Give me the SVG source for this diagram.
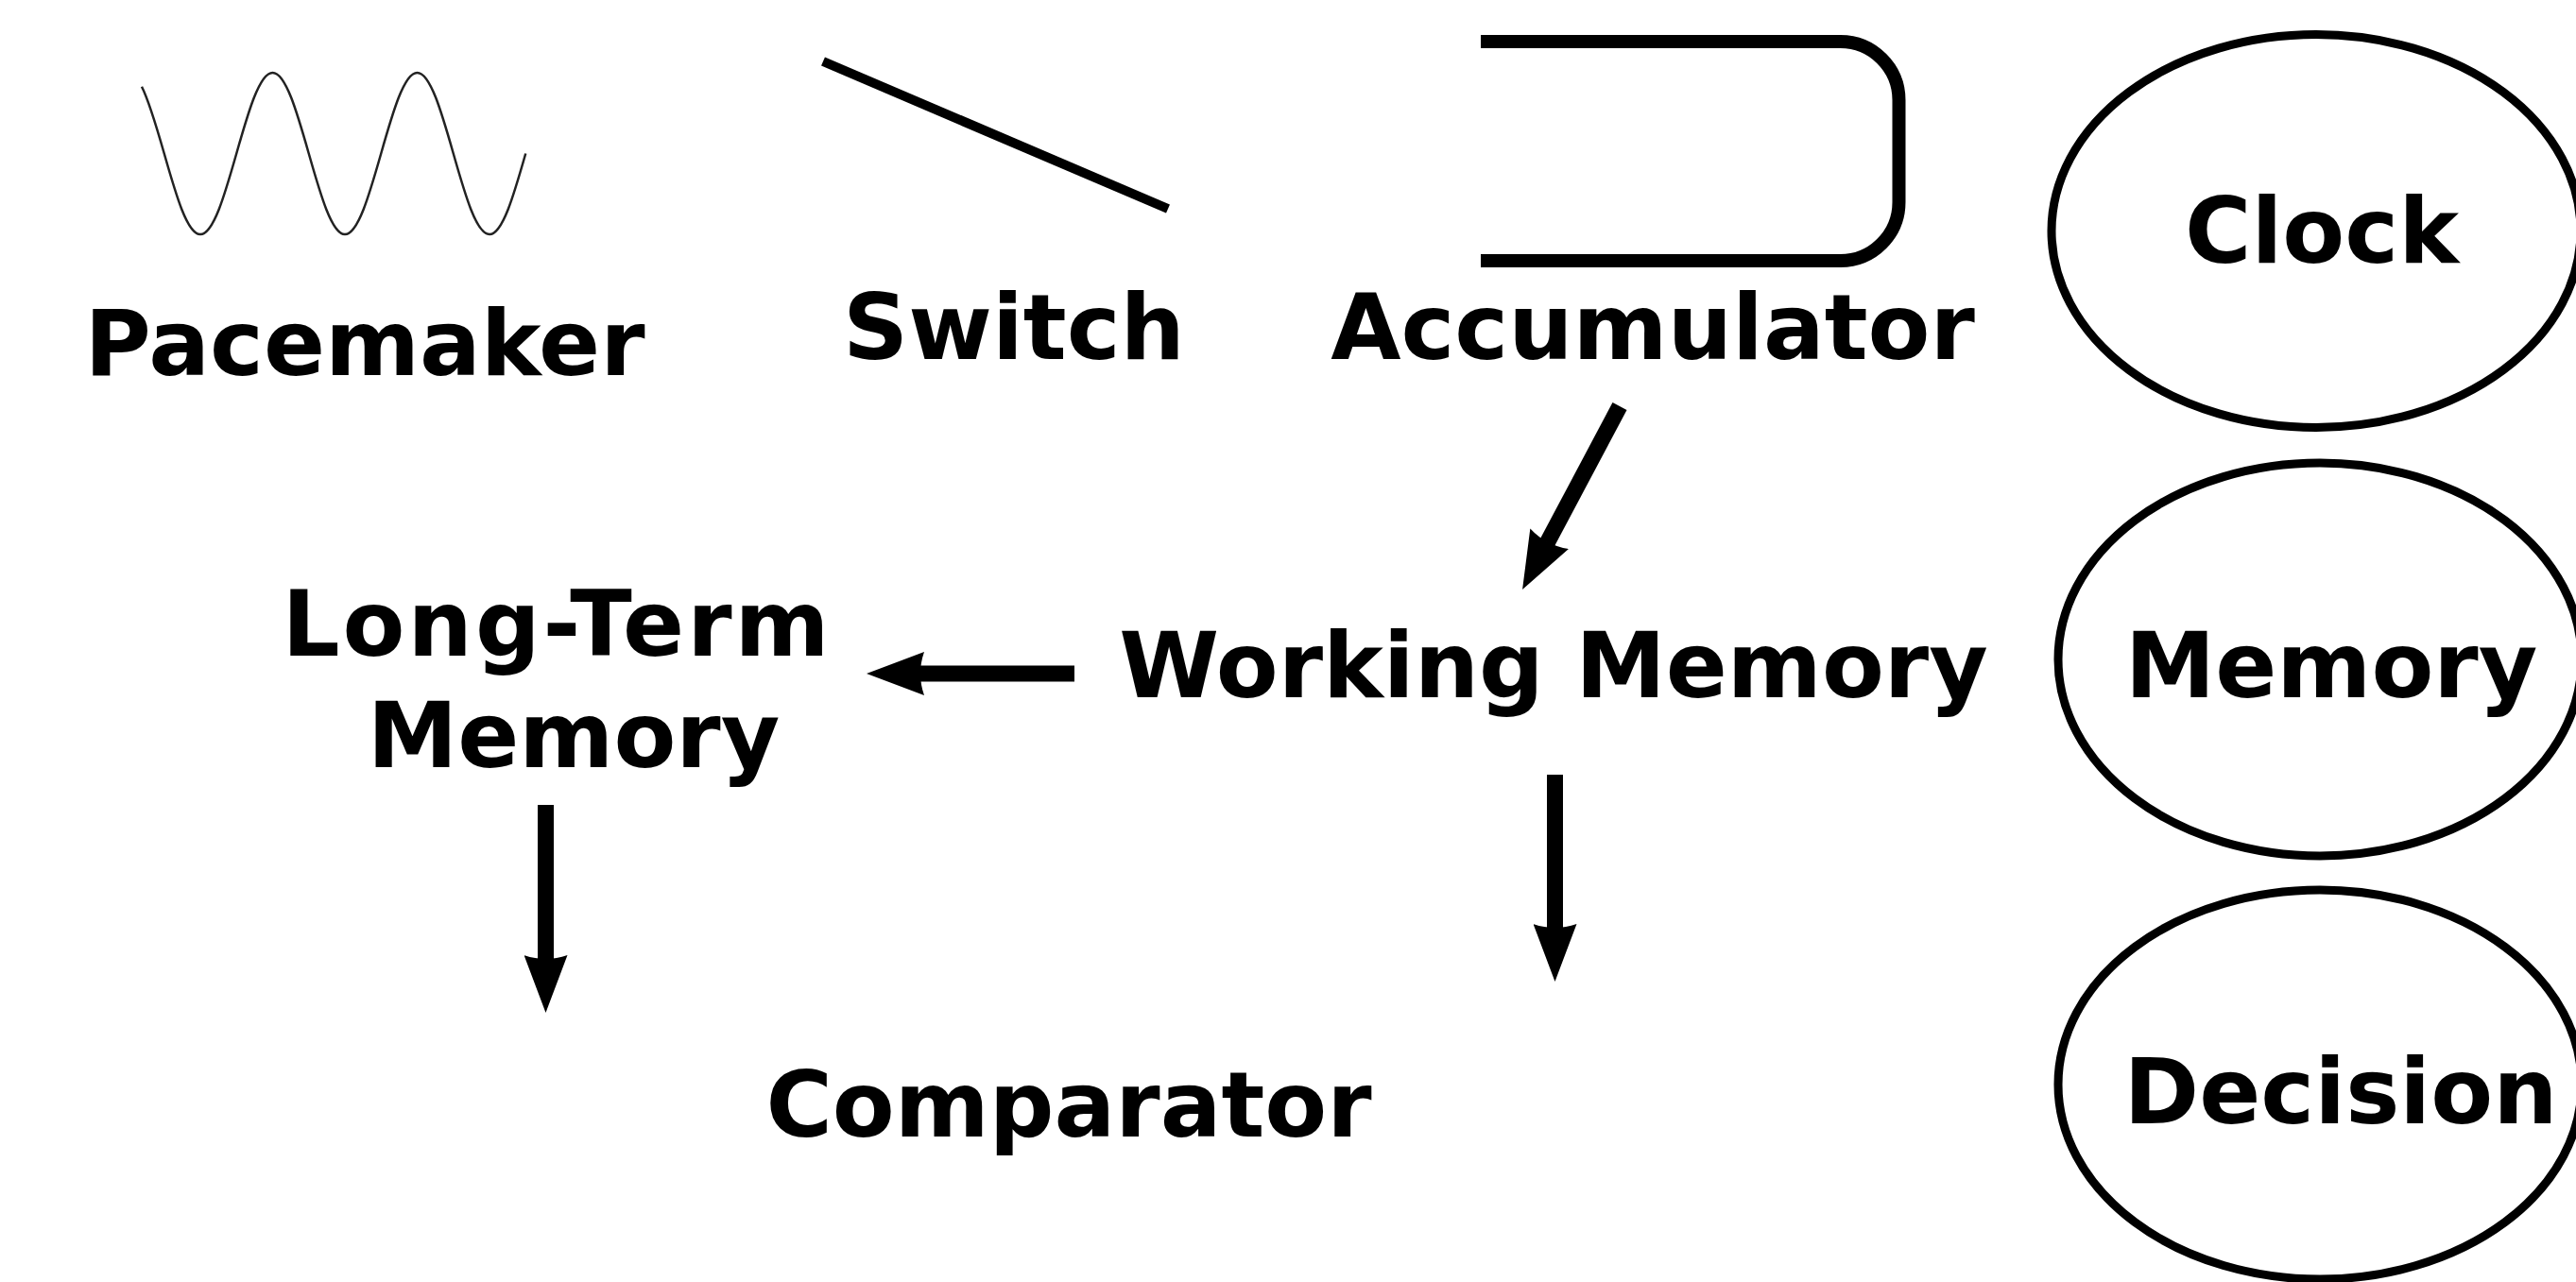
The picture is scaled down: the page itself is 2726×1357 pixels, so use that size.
<svg xmlns="http://www.w3.org/2000/svg" width="2726" height="1357" viewBox="0 0 2726 1357">
<style>
  text { font-family: "DejaVu Sans", "Liberation Sans", sans-serif; font-weight: bold; font-size: 96px; fill: #000; text-anchor: middle; }
  .ell { fill: none; stroke: #000; stroke-width: 9; }
  .conn { stroke: #000; stroke-width: 17; fill: none; marker-end: url(#head); }
</style>
<defs>
  <marker id="head" markerUnits="userSpaceOnUse" viewBox="0 0 61 46" markerWidth="61" markerHeight="46" refX="5" refY="23" orient="auto">
    <path d="M0,0 L61,23 L0,46 Q8,23 0,0 Z" fill="#000"/>
  </marker>
</defs>
<rect width="2726" height="1357" fill="#fff"/>
<g id="pacemaker">
  <path d="M150,91.7 C157.92,107.3 165.83,134.7 173.75,162.5 C186.22,206.3 198.16,248 212,248 C225.84,248 237.78,206.3 250.25,162.5 C262.72,118.7 274.66,77 288.5,77 C302.34,77 314.28,118.7 326.75,162.5 C339.22,206.3 351.16,248 365,248 C378.84,248 390.78,206.3 403.25,162.5 C415.72,118.7 427.66,77 441.5,77 C455.34,77 467.28,118.7 479.75,162.5 C492.22,206.3 504.16,248 518,248 C531.84,248 543.78,206.3 556.25,162.5" fill="none" stroke="#222" stroke-width="2.5"/>
  <text x="386" y="397">Pacemaker</text>
</g>
<g id="switch">
  <line x1="871" y1="65" x2="1236" y2="221" stroke="#000" stroke-width="10"/>
  <text x="1073" y="380">Switch</text>
</g>
<g id="accumulator">
  <path d="M1567,44 H1947 A62,62 0 0 1 2009.5,106 V214 A62,62 0 0 1 1947,276 H1567" fill="none" stroke="#000" stroke-width="14"/>
  <text x="1749" y="380">Accumulator</text>
</g>
<g id="clock">
  <ellipse class="ell" cx="2451" cy="244.5" rx="280" ry="208"/>
  <text x="2457" y="278">Clock</text>
</g>
<g id="memory-stage">
  <ellipse class="ell" cx="2455" cy="698" rx="277" ry="208"/>
  <text x="2467" y="738">Memory</text>
</g>
<g id="decision">
  <ellipse class="ell" cx="2455" cy="1148" rx="277" ry="206"/>
  <text x="2477" y="1189">Decision</text>
</g>
<g id="long-term-memory">
  <text x="589.5" y="694" letter-spacing="3">Long-Term</text>
  <text x="607" y="812">Memory</text>
</g>
<g id="working-memory">
  <text x="1644" y="738">Working Memory</text>
</g>
<g id="comparator">
  <text x="1131" y="1203">Comparator</text>
</g>
<g id="connectors">
  <line class="conn" x1="1714" y1="430" x2="1637.3" y2="574.6"/>
  <line class="conn" x1="1137" y1="713" x2="973" y2="713"/>
  <line class="conn" x1="1645.5" y1="820" x2="1645.5" y2="983"/>
  <line class="conn" x1="577.5" y1="852" x2="577.5" y2="1016"/>
</g>
</svg>
